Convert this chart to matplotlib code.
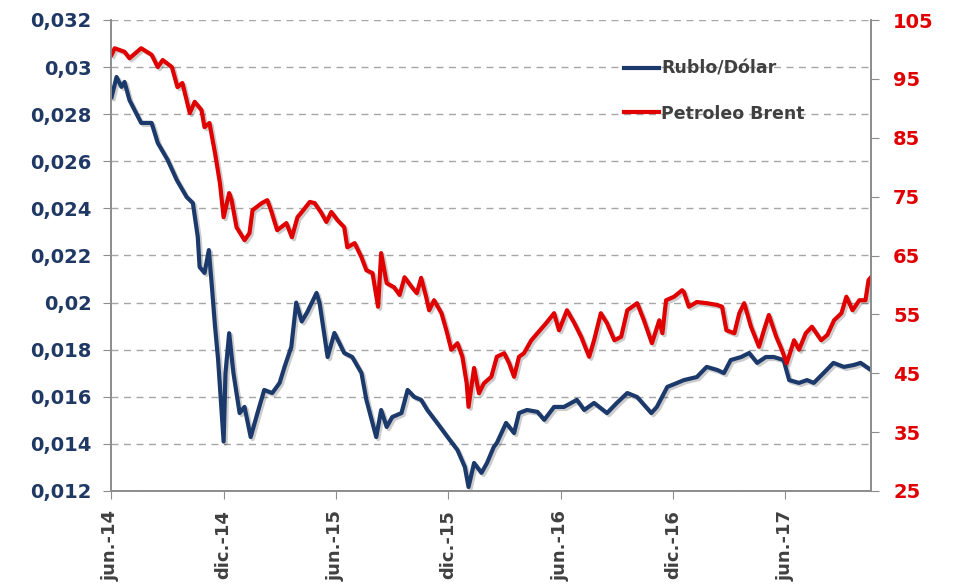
#!/usr/bin/env python3

import matplotlib
matplotlib.use("Agg")
import matplotlib.pyplot as plt
import matplotlib.patheffects as pe
import pandas as pd


FIGURE_WIDTH_PX = 955
FIGURE_HEIGHT_PX = 588
FIGURE_DPI = 100
BLUE = "#1B3A6B"
RED = "#E00000"
TEXT_GREY = "#404040"

# Rublo/Dólar (eje izquierdo)
fechas_rublo = [
    "2014-06-02", "2014-06-10", "2014-06-18", "2014-06-23", "2014-07-01",
    "2014-07-20", "2014-08-06", "2014-08-16", "2014-09-01", "2014-09-16",
    "2014-10-02", "2014-10-12", "2014-10-20", "2014-10-23", "2014-10-31",
    "2014-11-07", "2014-11-12", "2014-11-17", "2014-11-22", "2014-12-01",
    "2014-12-04", "2014-12-10", "2014-12-17", "2014-12-27", "2015-01-04",
    "2015-01-14", "2015-01-25", "2015-02-05", "2015-02-18", "2015-03-02",
    "2015-03-10", "2015-03-21", "2015-03-29", "2015-04-07", "2015-04-16",
    "2015-05-01", "2015-05-06", "2015-05-19", "2015-05-30", "2015-06-15",
    "2015-06-28", "2015-07-13", "2015-07-21", "2015-08-06", "2015-08-14",
    "2015-08-23", "2015-09-01", "2015-09-16", "2015-09-26", "2015-10-07",
    "2015-10-18", "2015-10-28", "2015-11-13", "2015-11-30", "2015-12-16",
    "2015-12-28", "2016-01-03", "2016-01-12", "2016-01-24", "2016-02-02",
    "2016-02-13", "2016-02-18", "2016-03-04", "2016-03-17", "2016-03-25",
    "2016-04-07", "2016-04-24", "2016-05-05", "2016-05-21", "2016-06-06",
    "2016-06-27", "2016-07-09", "2016-07-25", "2016-08-15", "2016-08-31",
    "2016-09-17", "2016-10-03", "2016-10-26", "2016-11-04", "2016-11-21",
    "2016-12-07", "2016-12-18", "2017-01-08", "2017-01-24", "2017-02-10",
    "2017-02-21", "2017-03-04", "2017-03-21", "2017-04-03", "2017-04-16",
    "2017-04-30", "2017-05-13", "2017-05-29", "2017-06-07", "2017-06-23",
    "2017-07-06", "2017-07-17", "2017-08-02", "2017-08-18", "2017-09-04",
    "2017-09-20", "2017-10-01", "2017-10-18",
]
rublo_dolar = [
    0.02873, 0.02958, 0.02916, 0.02937, 0.02860,
    0.02763, 0.02763, 0.02678, 0.02606, 0.02520,
    0.02448, 0.02423, 0.02279, 0.02151, 0.02126,
    0.02223, 0.02066, 0.01900, 0.01760, 0.01410,
    0.01700, 0.01870, 0.01700, 0.01531, 0.01557,
    0.01429, 0.01531, 0.01629, 0.01616, 0.01659,
    0.01727, 0.01812, 0.02000, 0.01920, 0.01960,
    0.02041, 0.01998, 0.01769, 0.01871, 0.01786,
    0.01769, 0.01701, 0.01587, 0.01429, 0.01544,
    0.01472, 0.01514, 0.01531, 0.01629, 0.01599,
    0.01587, 0.01544, 0.01489, 0.01429, 0.01374,
    0.01302, 0.01217, 0.01319, 0.01277, 0.01319,
    0.01387, 0.01404, 0.01489, 0.01446, 0.01531,
    0.01544, 0.01536, 0.01502, 0.01557, 0.01557,
    0.01587, 0.01544, 0.01574, 0.01531, 0.01574,
    0.01616, 0.01599, 0.01531, 0.01557, 0.01642,
    0.01659, 0.01671, 0.01684, 0.01727, 0.01714,
    0.01701, 0.01756, 0.01769, 0.01786, 0.01744,
    0.01769, 0.01769, 0.01756, 0.01671, 0.01659,
    0.01671, 0.01659, 0.01701, 0.01744, 0.01727,
    0.01735, 0.01744, 0.01714,
]

# Petroleo Brent (eje derecho)
fechas_brent = [
    "2014-06-02", "2014-06-07", "2014-06-23", "2014-07-01", "2014-07-20",
    "2014-08-06", "2014-08-16", "2014-08-24", "2014-09-08", "2014-09-17",
    "2014-09-25", "2014-10-07", "2014-10-15", "2014-10-26", "2014-10-31",
    "2014-11-08", "2014-11-17", "2014-11-25", "2014-12-01", "2014-12-10",
    "2014-12-14", "2014-12-22", "2015-01-04", "2015-01-12", "2015-01-17",
    "2015-02-01", "2015-02-10", "2015-02-16", "2015-02-26", "2015-03-13",
    "2015-03-22", "2015-03-31", "2015-04-08", "2015-04-20", "2015-04-28",
    "2015-05-09", "2015-05-17", "2015-05-25", "2015-06-04", "2015-06-15",
    "2015-06-20", "2015-07-02", "2015-07-13", "2015-07-21", "2015-07-31",
    "2015-08-09", "2015-08-14", "2015-08-23", "2015-09-04", "2015-09-13",
    "2015-09-21", "2015-10-03", "2015-10-11", "2015-10-18", "2015-10-26",
    "2015-10-31", "2015-11-08", "2015-11-20", "2015-11-28", "2015-12-06",
    "2015-12-16", "2015-12-24", "2015-12-31", "2016-01-03", "2016-01-12",
    "2016-01-20", "2016-01-28", "2016-02-09", "2016-02-18", "2016-03-01",
    "2016-03-09", "2016-03-17", "2016-03-25", "2016-04-02", "2016-04-14",
    "2016-04-24", "2016-05-08", "2016-05-21", "2016-05-29", "2016-06-11",
    "2016-06-23", "2016-07-04", "2016-07-17", "2016-07-25", "2016-08-05",
    "2016-08-15", "2016-08-27", "2016-09-07", "2016-09-17", "2016-10-03",
    "2016-10-14", "2016-10-27", "2016-11-08", "2016-11-13", "2016-11-19",
    "2016-12-02", "2016-12-15", "2016-12-18", "2016-12-26", "2017-01-08",
    "2017-01-24", "2017-02-10", "2017-02-18", "2017-02-25", "2017-03-10",
    "2017-03-18", "2017-03-26", "2017-04-06", "2017-04-19", "2017-04-27",
    "2017-05-05", "2017-05-17", "2017-05-26", "2017-06-03", "2017-06-15",
    "2017-06-23", "2017-07-04", "2017-07-14", "2017-07-29", "2017-08-08",
    "2017-08-19", "2017-08-31", "2017-09-08", "2017-09-18", "2017-09-29",
    "2017-10-09", "2017-10-14", "2017-10-18",
]
petroleo_brent = [
    99.1, 100.2, 99.6, 98.5, 100.2,
    99.1, 97.0, 98.2, 97.0, 93.6,
    94.3, 89.2, 91.1, 89.7, 86.8,
    87.5, 82.4, 77.3, 71.5, 75.6,
    74.4, 69.8, 67.6, 68.8, 72.7,
    73.9, 74.4, 72.7, 69.3, 70.5,
    68.1, 71.5, 72.5, 74.1, 73.9,
    72.2, 70.7, 72.4, 71.0, 69.8,
    66.4, 67.1, 64.7, 62.5, 62.0,
    56.3, 65.4, 60.3, 59.6, 58.3,
    61.3, 59.6, 58.6, 61.2, 58.0,
    55.7, 57.4, 55.2, 52.3, 49.0,
    50.1, 47.8, 43.3, 39.3, 45.9,
    41.6, 43.3, 44.4, 47.8, 48.4,
    46.7, 44.4, 47.8, 48.4, 50.6,
    51.8, 53.5, 55.2, 52.3, 55.7,
    53.5, 51.2, 47.8, 50.6, 55.2,
    53.5, 50.6, 51.2, 55.7, 56.9,
    54.0, 50.1, 54.0, 51.8, 57.4,
    58.0, 59.1, 58.8, 56.3, 57.1,
    56.9, 56.6, 56.3, 52.3, 51.8,
    55.2, 56.9, 52.9, 49.5, 52.3,
    54.9, 51.2, 49.0, 46.7, 50.6,
    49.0, 51.8, 52.9, 50.6, 51.5,
    54.0, 55.2, 58.0, 55.7, 57.4,
    57.4, 60.8, 61.3,
]

fechas_ticks = [
    "2014-06-01", "2014-12-01", "2015-06-01", "2015-12-01",
    "2016-06-01", "2016-12-01", "2017-06-01",
]
etiquetas_ticks = [
    "jun.-14", "dic.-14", "jun.-15", "dic.-15",
    "jun.-16", "dic.-16", "jun.-17",
]
ticks_izquierda = [0.012, 0.014, 0.016, 0.018, 0.020, 0.022,
                   0.024, 0.026, 0.028, 0.030, 0.032]
ticks_derecha = [25, 35, 45, 55, 65, 75, 85, 95, 105]


def formato_coma(valor: float) -> str:
    texto = f"{valor:.3f}".rstrip("0").rstrip(".")
    return texto.replace(".", ",")


def main() -> int:
    fig = plt.figure(
        figsize=(FIGURE_WIDTH_PX / FIGURE_DPI, FIGURE_HEIGHT_PX / FIGURE_DPI),
        dpi=FIGURE_DPI,
    )
    ax = fig.add_axes([111 / 955, 1 - 491 / 588, 760 / 955, 471 / 588])
    ax2 = ax.twinx()

    sombra = [pe.SimpleLineShadow(offset=(1.5, -1.5), alpha=0.2), pe.Normal()]

    (linea_rublo,) = ax.plot(
        pd.to_datetime(fechas_rublo), rublo_dolar,
        color=BLUE, linewidth=3.0, label="Rublo/Dólar",
        solid_joinstyle="round", path_effects=sombra,
    )
    (linea_brent,) = ax2.plot(
        pd.to_datetime(fechas_brent), petroleo_brent,
        color=RED, linewidth=3.0, label="Petroleo Brent",
        solid_joinstyle="round", path_effects=sombra,
    )

    inicio = pd.Timestamp("2014-06-01")
    fin = pd.Timestamp(fechas_brent[-1])
    ax.set_xlim(inicio, fin)

    ax.set_ylim(0.012, 0.032)
    ax.set_yticks(ticks_izquierda)
    ax.set_yticklabels([formato_coma(v) for v in ticks_izquierda])
    ax2.set_ylim(25, 105)
    ax2.set_yticks(ticks_derecha)
    ax2.set_yticklabels([str(v) for v in ticks_derecha])

    ax.set_xticks(pd.to_datetime(fechas_ticks))
    ax.set_xticklabels(etiquetas_ticks, rotation=90)

    ax.grid(axis="y", linestyle=(0, (5, 4)), color="#A6A6A6", linewidth=1.0)
    ax.set_axisbelow(True)

    for a in (ax, ax2):
        a.spines["top"].set_visible(False)
        for lado in ("left", "right", "bottom"):
            a.spines[lado].set_color("#8C8C8C")
            a.spines[lado].set_linewidth(1.2)

    ax.tick_params(axis="y", direction="out", length=6, color="#8C8C8C",
                   labelsize=14, labelcolor="#1F3864", pad=8)
    ax.tick_params(axis="x", direction="out", length=6, color="#8C8C8C",
                   labelsize=13, labelcolor=TEXT_GREY, pad=8)
    ax2.tick_params(axis="y", direction="out", length=6, color="#8C8C8C",
                    labelsize=14, labelcolor=RED, pad=10)
    for etiqueta in ax.get_yticklabels() + ax2.get_yticklabels() + ax.get_xticklabels():
        etiqueta.set_fontweight("bold")

    leyenda = ax2.legend(
        handles=[linea_rublo, linea_brent],
        loc="upper left",
        bbox_to_anchor=(0.655, 0.949),
        frameon=False,
        fontsize=12.5,
        handlelength=2.0,
        handletextpad=0.1,
        labelspacing=1.55,
    )
    for texto in leyenda.get_texts():
        texto.set_color(TEXT_GREY)
        texto.set_fontweight("bold")
    for linea in leyenda.get_lines():
        linea.set_path_effects([])
        linea.set_linewidth(3)

    fig.savefig("out.png", dpi=FIGURE_DPI)
    return 0


if __name__ == "__main__":
    raise SystemExit(main())
